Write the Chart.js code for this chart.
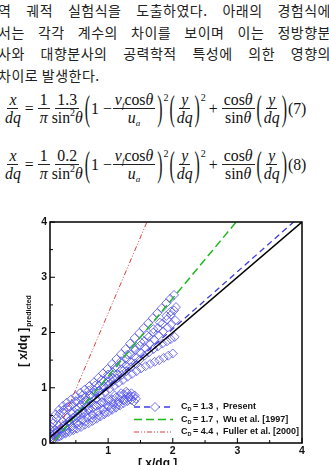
<!DOCTYPE html>
<html>
<head>
<meta charset="utf-8">
<script src="https://cdn.jsdelivr.net/npm/chart.js@4.4.0/dist/chart.umd.min.js"></script>
<style>
html, body { margin: 0; padding: 0; background: #fff; width: 329px; height: 465px; overflow: hidden; position: relative; }
.ln { position: absolute; left: -2px; width: 333px; height: 20px; line-height: 20px; font-family: "Noto Sans CJK KR"; font-size: 14px; letter-spacing: 0.5px; color: #222; text-align: justify; text-align-last: justify; }
.ln.last { text-align-last: left; }
.eq { position: absolute; left: 4px; display: flex; align-items: center; font-family: "Liberation Serif"; font-size: 15.8px; color: #111; white-space: nowrap; }
.fr { display: inline-flex; flex-direction: column; align-items: center; margin: 0 1px; }
.fr .n { border-bottom: 1px solid #222; padding: 0 2px; line-height: 17px; height: 17px; }
.fr .d { line-height: 17px; height: 17px; }
.p { display: inline-block; transform: scaleY(2.2); font-weight: 300; margin: 0 1px; }
.op { margin: 0 3px; }
i { font-style: italic; }
.s2 { font-size: 10px; align-self: flex-start; margin-top: 1px; }
sup { font-size: 10px; vertical-align: 7px; line-height: 0; }
sub { font-size: 9px; vertical-align: -3px; line-height: 0; }
canvas { position: absolute; left: 0; top: 0; }
</style>
</head>
<body>
<div class="ln" style="top:0px">역 궤적 실험식을 도출하였다. 아래의 경험식에</div>
<div class="ln" style="top:22px">서는 각각 계수의 차이를 보이며 이는 정방향분</div>
<div class="ln" style="top:43px">사와 대향분사의 공력학적 특성에 의한 영향의</div>
<div class="ln last" style="top:65px">차이로 발생한다.</div>

<div class="eq" style="top:91px">
  <span class="fr"><span class="n"><i>x</i></span><span class="d"><i>dq</i></span></span>
  <span class="op">=</span>
  <span class="fr"><span class="n">1</span><span class="d"><i>π</i></span></span>
  <span class="fr"><span class="n">1.3</span><span class="d">sin<sup>2</sup><i>θ</i></span></span>
  <span class="p">(</span><span>1 −</span>
  <span class="fr"><span class="n"><i>v<sub>f</sub></i>cos<i>θ</i></span><span class="d"><i>u<sub>a</sub></i></span></span>
  <span class="p">)</span><span class="s2">2</span>
  <span class="p">(</span><span class="fr"><span class="n"><i>y</i></span><span class="d"><i>dq</i></span></span><span class="p">)</span><span class="s2">2</span>
  <span class="op">+</span>
  <span class="fr"><span class="n">cos<i>θ</i></span><span class="d">sin<i>θ</i></span></span>
  <span class="p">(</span><span class="fr"><span class="n"><i>y</i></span><span class="d"><i>dq</i></span></span><span class="p">)</span>
  <span>(7)</span>
</div>

<div class="eq" style="top:147px">
  <span class="fr"><span class="n"><i>x</i></span><span class="d"><i>dq</i></span></span>
  <span class="op">=</span>
  <span class="fr"><span class="n">1</span><span class="d"><i>π</i></span></span>
  <span class="fr"><span class="n">0.2</span><span class="d">sin<sup>2</sup><i>θ</i></span></span>
  <span class="p">(</span><span>1 −</span>
  <span class="fr"><span class="n"><i>v<sub>f</sub></i>cos<i>θ</i></span><span class="d"><i>u<sub>a</sub></i></span></span>
  <span class="p">)</span><span class="s2">2</span>
  <span class="p">(</span><span class="fr"><span class="n"><i>y</i></span><span class="d"><i>dq</i></span></span><span class="p">)</span><span class="s2">2</span>
  <span class="op">+</span>
  <span class="fr"><span class="n">cos<i>θ</i></span><span class="d">sin<i>θ</i></span></span>
  <span class="p">(</span><span class="fr"><span class="n"><i>y</i></span><span class="d"><i>dq</i></span></span><span class="p">)</span>
  <span>(8)</span>
</div>

<canvas id="chart" width="329" height="465"></canvas>

<script>
// axis ticks
const xTicks = [1, 2, 3, 4];
const yTicks = [0, 1, 2, 3, 4];
const minorTicks = [0.5, 1.5, 2.5, 3.5];

// measured vs predicted, several runs
const run1 = [[0.10,0.32],[0.14,0.42],[0.19,0.52],[0.24,0.60],[0.30,0.67],[0.36,0.73],[0.43,0.79],[0.50,0.85],[0.57,0.91],[0.64,0.97],[0.71,1.03],[0.78,1.10],[0.85,1.18],[0.92,1.26],[0.99,1.34],[1.06,1.43],[1.13,1.52],[1.20,1.61],[1.27,1.70],[1.34,1.80],[1.41,1.90],[1.48,1.99],[1.55,2.08],[1.62,2.17],[1.69,2.26],[1.76,2.35],[1.83,2.44],[1.90,2.53],[1.96,2.61],[2.02,2.68]];
const run2 = [[0.12,0.16],[0.18,0.24],[0.24,0.32],[0.30,0.39],[0.37,0.46],[0.44,0.53],[0.51,0.61],[0.58,0.69],[0.65,0.77],[0.72,0.86],[0.79,0.95],[0.86,1.04],[0.93,1.12],[1.00,1.20],[1.07,1.28],[1.14,1.36],[1.21,1.44],[1.28,1.52],[1.35,1.60],[1.42,1.68],[1.49,1.76],[1.56,1.84],[1.63,1.92],[1.70,2.00],[1.77,2.08],[1.84,2.16],[1.91,2.24],[1.97,2.32],[2.02,2.40],[2.05,2.46]];
const run3 = [[0.45,0.55],[0.55,0.64],[0.65,0.74],[0.75,0.84],[0.85,0.93],[0.93,1.03],[1.00,1.12],[1.07,1.18],[1.14,1.25],[1.21,1.33],[1.28,1.40],[1.35,1.47],[1.42,1.55],[1.50,1.64],[1.57,1.72],[1.64,1.80],[1.71,1.87],[1.78,1.95],[1.85,2.02],[1.92,2.09],[1.98,2.15],[2.04,2.22]];
const run4 = [[0.10,0.25],[0.15,0.36],[0.20,0.45],[0.25,0.53],[0.31,0.60],[0.37,0.65],[0.44,0.70],[0.51,0.75],[0.58,0.79],[0.65,0.83],[0.72,0.87],[0.79,0.91],[0.86,0.95],[0.93,1.00],[1.00,1.05],[1.07,1.11],[1.14,1.17],[1.21,1.23],[1.28,1.30],[1.35,1.37],[1.42,1.44],[1.49,1.51],[1.56,1.58],[1.63,1.64],[1.70,1.70],[1.77,1.75],[1.84,1.80],[1.91,1.84],[1.97,1.88],[2.03,1.92]];
const run5 = [[0.12,0.12],[0.18,0.18],[0.25,0.25],[0.32,0.32],[0.39,0.39],[0.46,0.46],[0.53,0.53],[0.60,0.60],[0.67,0.67],[0.74,0.74],[0.81,0.80],[0.88,0.86],[0.95,0.92],[1.02,0.98],[1.09,1.03],[1.16,1.09],[1.23,1.14],[1.30,1.20],[1.37,1.25],[1.44,1.30],[1.51,1.35],[1.58,1.39],[1.65,1.43],[1.72,1.47],[1.79,1.50],[1.86,1.54],[1.93,1.58],[2.00,1.62]];
const run6 = [[0.10,0.10],[0.16,0.15],[0.22,0.20],[0.28,0.25],[0.34,0.30],[0.40,0.36],[0.46,0.41],[0.52,0.46],[0.58,0.51],[0.64,0.55],[0.70,0.59],[0.76,0.63],[0.82,0.67],[0.88,0.70],[0.94,0.73],[1.00,0.76],[1.06,0.79],[1.12,0.82],[1.18,0.85],[1.24,0.88],[1.30,0.90],[1.36,0.90],[1.41,0.86],[1.43,0.80]];
const run7 = [[0.12,0.08],[0.20,0.14],[0.28,0.19],[0.36,0.24],[0.44,0.30],[0.52,0.36],[0.60,0.41],[0.68,0.46],[0.76,0.51],[0.84,0.56],[0.92,0.61],[1.00,0.66],[1.08,0.70],[1.16,0.74],[1.24,0.79],[1.32,0.83]];
const run8 = [[0.10,0.05],[0.16,0.08],[0.22,0.11],[0.28,0.14],[0.34,0.17],[0.40,0.20],[0.46,0.23],[0.52,0.26],[0.58,0.29],[0.64,0.33],[0.70,0.36],[0.76,0.40],[0.82,0.44],[0.88,0.48],[0.94,0.52],[1.00,0.56],[1.06,0.60],[1.12,0.64],[1.18,0.68],[1.24,0.72],[1.30,0.76],[1.36,0.78],[1.40,0.75]];
const run9 = [[0.15,0.06],[0.25,0.12],[0.35,0.20],[0.45,0.26],[0.55,0.33],[0.65,0.39],[0.75,0.45],[0.85,0.50],[0.95,0.56],[1.05,0.63],[1.15,0.70],[1.25,0.77],[1.33,0.84],[1.38,0.84]];
const run10 = [[0.20,0.22],[0.30,0.30],[0.40,0.40],[0.50,0.49],[0.60,0.56],[0.70,0.62],[0.80,0.68],[0.90,0.74],[1.00,0.80],[1.10,0.86],[1.20,0.90],[1.28,0.93]];
const run11 = [[0.30,0.55],[0.40,0.66],[0.50,0.76],[0.60,0.86],[0.70,0.95],[0.80,1.04],[0.90,1.14],[1.00,1.24],[1.10,1.36],[1.20,1.48],[1.30,1.60],[1.40,1.72],[1.50,1.83],[1.60,1.95],[1.70,2.06],[1.80,2.18],[1.90,2.30],[1.97,2.38]];

// correlation lines (end points)
const perfectLine = [[0.1,0.1],[4,4]];
const presentLine = [[0.1,0.1],[3.87,4]];
const wuLine = [[0.17,0.04],[2.98,4]];
const fullerLine = [[0.15,0.01],[1.6,4]];

const legendItems = [
    { cd: '1.3', label: 'Present', color: 'rgb(60,60,225)', dash: [6, 4], width: 1.3, marker: true },
    { cd: '1.7', label: 'Wu et al. [1997]', color: 'rgb(30,185,30)', dash: [8, 4], width: 1.5 },
    { cd: '4.4', label: 'Fuller et al. [2000]', color: 'rgb(220,60,60)', dash: [5, 2, 1, 2, 1, 2], width: 1 }
];

const toXY = arr => arr.map(p => ({ x: p[0], y: p[1] }));
const diamondColor = 'rgba(80,80,235,0.8)';
const runs = [run1, run2, run3, run4, run5, run6, run7, run8, run9, run10, run11];

function lineSet(arr, color, dash, width) {
    return {
        data: toXY(arr), showLine: true, pointRadius: 0,
        borderColor: color, borderDash: dash, borderWidth: width, fill: false
    };
}

const datasets = [
    lineSet(perfectLine, '#000', [], 1.5),
    lineSet(presentLine, legendItems[0].color, legendItems[0].dash, 1.3),
    lineSet(wuLine, legendItems[1].color, legendItems[1].dash, 1.5),
    lineSet(fullerLine, legendItems[2].color, legendItems[2].dash, 1)
];
runs.forEach(r => datasets.push({
    data: toXY(r), showLine: false, pointStyle: 'rectRot', pointRadius: 4.5,
    pointBorderWidth: 1, pointBorderColor: diamondColor, pointBackgroundColor: 'rgba(0,0,0,0)'
}));

const decor = {
    id: 'decor',
    afterDraw(chart) {
        const ctx = chart.ctx;
        const a = chart.chartArea;
        const xs = chart.scales.x, ys = chart.scales.y;
        ctx.save();
        // frame
        ctx.strokeStyle = '#000';
        ctx.lineWidth = 1.5;
        ctx.strokeRect(a.left, a.top, a.right - a.left, a.bottom - a.top);
        // inward ticks
        ctx.lineWidth = 1;
        ctx.beginPath();
        xTicks.forEach(v => { const px = xs.getPixelForValue(v); ctx.moveTo(px, a.bottom); ctx.lineTo(px, a.bottom - 5); });
        minorTicks.forEach(v => { const px = xs.getPixelForValue(v); ctx.moveTo(px, a.bottom); ctx.lineTo(px, a.bottom - 3); });
        yTicks.forEach(v => { const py = ys.getPixelForValue(v); ctx.moveTo(a.left, py); ctx.lineTo(a.left + 5, py); });
        minorTicks.forEach(v => { const py = ys.getPixelForValue(v); ctx.moveTo(a.left, py); ctx.lineTo(a.left + 3, py); });
        ctx.stroke();
        // tick labels
        ctx.fillStyle = '#111';
        ctx.font = 'bold 10.5px "Liberation Sans", Arial';
        ctx.textAlign = 'center';
        ctx.textBaseline = 'top';
        xTicks.forEach(v => ctx.fillText(String(v), xs.getPixelForValue(v), a.bottom + 3));
        ctx.textAlign = 'right';
        ctx.textBaseline = 'middle';
        yTicks.forEach(v => ctx.fillText(String(v), a.left - 3, ys.getPixelForValue(v)));
        // axis titles
        ctx.font = 'bold 12px "Liberation Sans", Arial';
        ctx.textAlign = 'left';
        ctx.textBaseline = 'alphabetic';
        ctx.fillText('[ x/dq ]', 138, 467);
        ctx.save();
        ctx.translate(27, 367);
        ctx.rotate(-Math.PI / 2);
        ctx.fillText('[ x/dq ]', 0, 0);
        const w = ctx.measureText('[ x/dq ]').width;
        ctx.font = 'bold 7px "Liberation Sans", Arial';
        ctx.fillText('predicted', w + 1, 4);
        ctx.restore();
        // legend
        legendItems.forEach((it, i) => {
            const y = 407 + i * 12.5;
            ctx.strokeStyle = it.color;
            ctx.lineWidth = it.width;
            ctx.setLineDash(it.dash);
            ctx.beginPath();
            ctx.moveTo(134, y);
            ctx.lineTo(173, y);
            ctx.stroke();
            ctx.setLineDash([]);
            if (it.marker) {
                ctx.strokeStyle = diamondColor;
                ctx.lineWidth = 1;
                ctx.beginPath();
                ctx.moveTo(155, y - 4.5); ctx.lineTo(159.5, y); ctx.lineTo(155, y + 4.5); ctx.lineTo(150.5, y); ctx.closePath();
                ctx.fillStyle = '#fff';
                ctx.fill();
                ctx.stroke();
            }
            ctx.fillStyle = '#111';
            ctx.textBaseline = 'middle';
            ctx.font = 'bold 9px "Liberation Sans", Arial';
            ctx.fillText('C', 181, y);
            ctx.font = 'bold 5.5px "Liberation Sans", Arial';
            ctx.fillText('D', 187.5, y + 2.5);
            ctx.font = 'bold 9px "Liberation Sans", Arial';
            ctx.fillText('= ' + it.cd, 193, y);
            ctx.fillText(',', 216, y);
            ctx.fillText(it.label, 223, y);
        });
        ctx.restore();
    }
};

new Chart(document.getElementById('chart').getContext('2d'), {
    type: 'scatter',
    data: { datasets: datasets },
    options: {
        responsive: false,
        animation: false,
        layout: { padding: { left: 50, right: 27, top: 222, bottom: 22 } },
        plugins: { legend: { display: false }, tooltip: { enabled: false } },
        scales: {
            x: { type: 'linear', min: 0.1, max: 4, display: false },
            y: { type: 'linear', min: 0, max: 4, display: false }
        }
    },
    plugins: [decor]
});
</script>
</body>
</html>
